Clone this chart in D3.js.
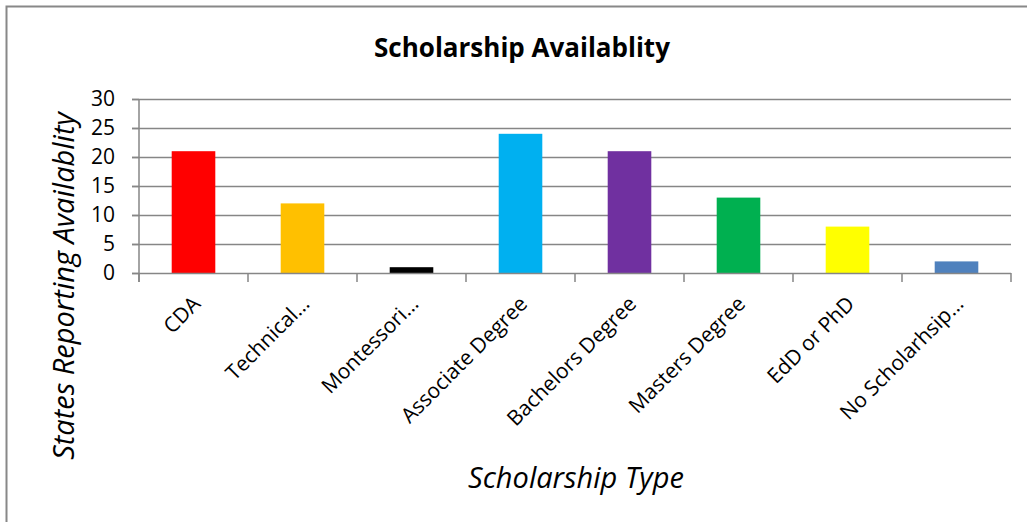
<!DOCTYPE html>
<html>
<head>
<meta charset="utf-8">
<script src="https://cdn.jsdelivr.net/npm/d3@7"></script>
<style>
body { margin: 0; background: #fff; }
svg { display: block; font-family: "Open Sans", sans-serif; }
</style>
</head>
<body>
<div id="chart"></div>
<script>
var categories = ['CDA', 'Technical\u2026', 'Montessori\u2026', 'Associate Degree', 'Bachelors Degree', 'Masters Degree', 'EdD or PhD', 'No Scholarhsip\u2026'];
var values = [21, 12, 1, 24, 21, 13, 8, 2];
var colors = ['#FF0000', '#FFC000', '#000000', '#00B0F0', '#7030A0', '#00B050', '#FFFF00', '#4F81BD'];
var yTicks = [0, 5, 10, 15, 20, 25, 30];

var width = 1027, height = 522;
var plot = { left: 139, right: 1011, top: 99, bottom: 273 };

var svg = d3.select('#chart').append('svg')
    .attr('width', width)
    .attr('height', height);

// outer chart frame (runs off the right and bottom edges)
svg.append('rect')
    .attr('x', 6.5).attr('y', 6.5)
    .attr('width', width + 20).attr('height', height + 20)
    .attr('fill', 'none')
    .attr('stroke', '#888')
    .attr('stroke-width', 2);

var x = d3.scaleBand()
    .domain(categories)
    .range([plot.left, plot.right])
    .paddingInner(0.6)
    .paddingOuter(0.3);

var y = d3.scaleLinear()
    .domain([0, 30])
    .range([plot.bottom, plot.top]);

// gridlines
svg.append('g').selectAll('line')
    .data(yTicks.filter(function(d) { return d > 0; }))
    .enter().append('line')
    .attr('x1', plot.left - 7).attr('x2', plot.right)
    .attr('y1', function(d) { return y(d) + 0.5; })
    .attr('y2', function(d) { return y(d) + 0.5; })
    .attr('stroke', '#868686')
    .attr('stroke-width', 1.5);

// bars
svg.append('g').selectAll('rect')
    .data(values)
    .enter().append('rect')
    .attr('x', function(d, i) { return x(categories[i]); })
    .attr('width', x.bandwidth())
    .attr('y', function(d) { return y(d); })
    .attr('height', function(d) { return y(0) - y(d); })
    .attr('fill', function(d, i) { return colors[i]; });

// y axis
var yAxis = svg.append('g')
    .attr('transform', 'translate(' + plot.left + ',0)')
    .call(d3.axisLeft(y).tickValues(yTicks).tickSize(7).tickPadding(17));
yAxis.select('.domain').remove();
yAxis.append('line')
    .attr('x1', 0).attr('x2', 0)
    .attr('y1', plot.top).attr('y2', plot.bottom + 9)
    .attr('stroke', '#868686').attr('stroke-width', 1.5);
yAxis.selectAll('.tick line').attr('stroke', '#868686').attr('stroke-width', 1.5);
yAxis.selectAll('.tick text')
    .attr('font-size', 21)
    .attr('fill', '#000')
    .attr('font-family', '"Open Sans", sans-serif');

// x axis
var xAxis = svg.append('g')
    .attr('transform', 'translate(0,' + plot.bottom + ')');
xAxis.append('line')
    .attr('x1', plot.left - 7).attr('x2', plot.right)
    .attr('y1', 0.5).attr('y2', 0.5)
    .attr('stroke', '#868686').attr('stroke-width', 1.5);
var step = x.step();
var edges = d3.range(categories.length + 1).map(function(i) { return plot.left + i * step; });
xAxis.selectAll('line.tk')
    .data(edges)
    .enter().append('line')
    .attr('class', 'tk')
    .attr('x1', function(d) { return d; }).attr('x2', function(d) { return d; })
    .attr('y1', 0).attr('y2', 9)
    .attr('stroke', '#868686').attr('stroke-width', 1.5);
xAxis.selectAll('text')
    .data(categories)
    .enter().append('text')
    .attr('transform', function(d) {
        return 'translate(' + (x(d) + x.bandwidth() / 2 + 3) + ',27) rotate(-45)';
    })
    .attr('text-anchor', 'end')
    .attr('dy', '0.35em')
    .attr('font-size', 21)
    .text(function(d) { return d; });

// titles
svg.append('text')
    .attr('x', 522).attr('y', 57)
    .attr('text-anchor', 'middle')
    .attr('font-size', 26)
    .attr('font-weight', 'bold')
    .text('Scholarship Availablity');

svg.append('text')
    .attr('transform', 'translate(74,286) rotate(-90)')
    .attr('text-anchor', 'middle')
    .attr('font-size', 29)
    .attr('font-style', 'italic')
    .text('States Reporting Availablity');

svg.append('text')
    .attr('x', 576).attr('y', 488)
    .attr('text-anchor', 'middle')
    .attr('font-size', 29)
    .attr('font-style', 'italic')
    .text('Scholarship Type');
</script>
</body>
</html>
